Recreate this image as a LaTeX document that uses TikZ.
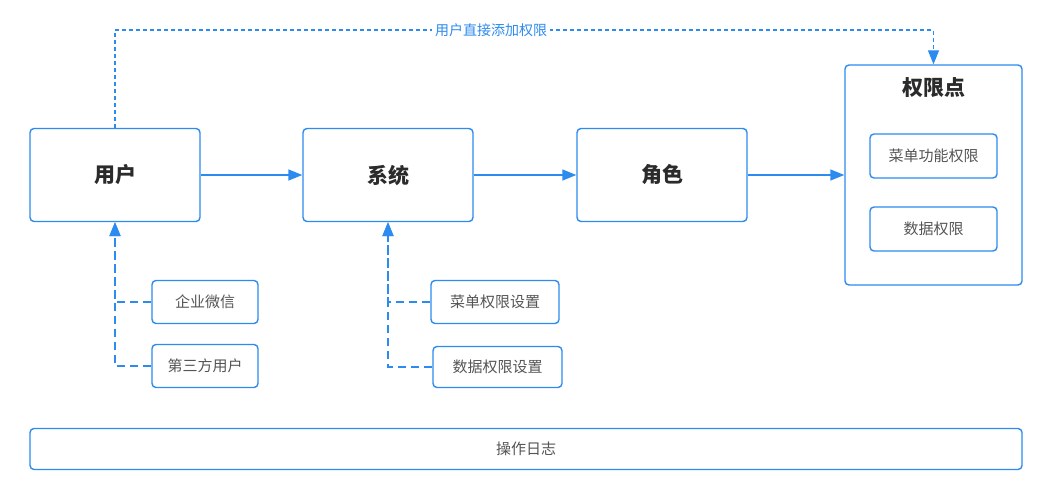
\documentclass[tikz,border=0pt]{standalone}
\usepackage{fontspec}
\setmainfont{Noto Sans CJK SC}
\usetikzlibrary{positioning, calc, arrows.meta}
\usepackage{xcolor}
\definecolor{xblue}{HTML}{2C8BEF}
\definecolor{xtext}{HTML}{2B2B2B}
\definecolor{xgray}{HTML}{555555}
\tikzset{
	box/.style={draw=xblue, line width=1.4pt, rounded corners=4pt, inner sep=0pt, fill=white},
	bigbox/.style={box, minimum width=170pt, minimum height=93pt, font=\fontsize{21}{25}\selectfont\bfseries, text=xtext},
	smallbox/.style={box, minimum width=106pt, minimum height=43pt, font=\fontsize{15}{18}\selectfont, text=xgray},
	arrow/.style={xblue, line width=1.4pt, -{Triangle[length=14pt, width=11pt]}},
	dasharrow/.style={arrow, dash pattern=on 8pt off 5pt},
	dotarrow/.style={arrow, dash pattern=on 4pt off 3pt},
}

\begin{document}
\begin{tikzpicture}[x=1pt, y=-1pt]
			\useasboundingbox (0,0) rectangle (1052,500);

			\node[bigbox] (user) at (115,175) {用户};
			\node[bigbox] (sys) at (388,175) {系统};
			\node[bigbox] (role) at (662,175) {角色};

			\node[box, minimum width=177pt, minimum height=220pt] (perm) at (933.5,175) {};
			\node[font=\fontsize{21}{25}\selectfont\bfseries, text=xtext] (permlbl) at (933.5,88) {权限点};
			\node[smallbox, minimum width=127pt, minimum height=44pt] (menuperm) at (933.5,156) {菜单功能权限};
			\node[smallbox, minimum width=127pt, minimum height=44pt] (dataperm) at (933.5,229) {数据权限};

			\node[smallbox] (wechat) at (205,302) {企业微信};
			\node[smallbox] (third) at (205,366) {第三方用户};
			\node[smallbox, minimum width=128pt] (menuset) at (495,302) {菜单权限设置};
			\node[smallbox, minimum width=129pt, minimum height=41pt] (dataset) at (497.5,367) {数据权限设置};

			\node[box, minimum width=992pt, minimum height=41pt, font=\fontsize{15}{18}\selectfont, text=xgray] (log) at (526,449) {操作日志};

			\draw[arrow] (user) -- (sys);
			\draw[arrow] (sys) -- (role);
			\draw[arrow] (role) -- (perm);

			\draw[dasharrow] (wechat.west) -| (user.south);
			\draw[dasharrow] (third.west) -| (user.south);
			\draw[dasharrow] (menuset.west) -| (sys.south);
			\draw[dasharrow] (dataset.west) -| (sys.south);

			\coordinate (topleft) at (115,30);
			\coordinate (topright) at (933.5,30);
			\draw[dotarrow] (user.north) -- (topleft) -- (topright) -- (perm.north);
			\node[fill=white, inner sep=3pt, text=xblue, font=\fontsize{14}{17}\selectfont] (directlbl) at (491,30) {用户直接添加权限};
		\end{tikzpicture}
\end{document}
